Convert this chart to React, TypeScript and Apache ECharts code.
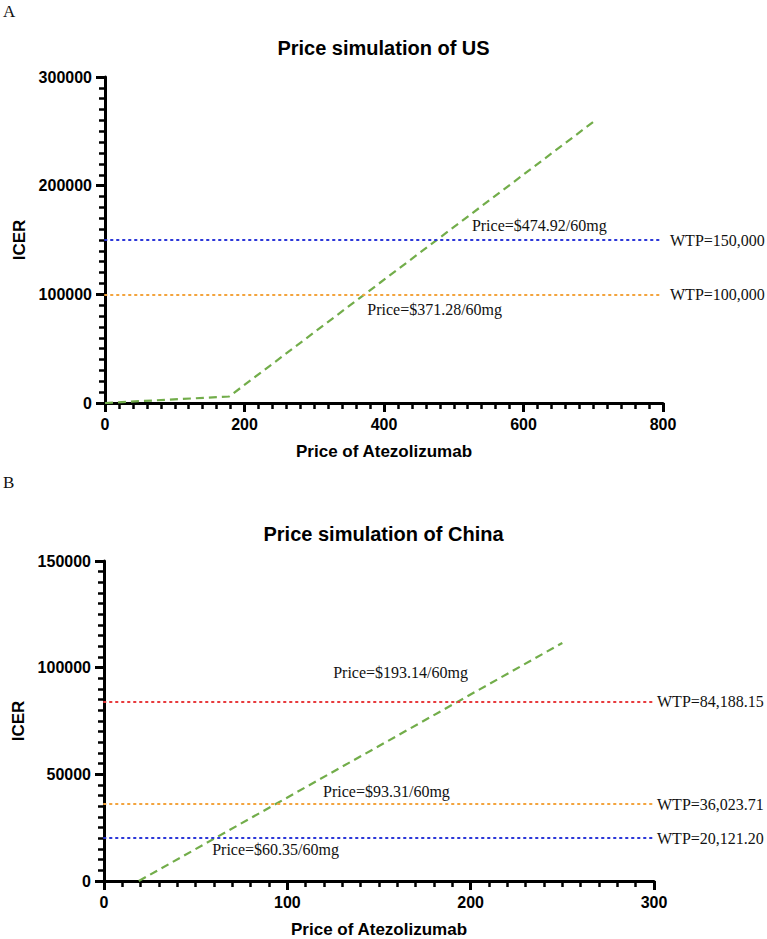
import React, { useEffect, useRef } from "react";
import * as echarts from "echarts";

// ---- Panel A (US) ----
const usCurveX = [0, 178, 700];
const usCurveY = [0, 6000, 258600];
const usWtpValues = [150000, 100000];
const usWtpLabels = ["WTP=150,000", "WTP=100,000"];
const usWtpColors = ["#2a35d8", "#f3a33c"];
const usPriceLabels = ["Price=$474.92/60mg", "Price=$371.28/60mg"];
const usPriceLabelX = [526, 376];
const usPriceLabelY = [163800, 85600];

// ---- Panel B (China) ----
const cnCurveX = [19, 250];
const cnCurveY = [0, 111600];
const cnWtpValues = [84188.15, 36023.71, 20121.2];
const cnWtpLabels = ["WTP=84,188.15", "WTP=36,023.71", "WTP=20,121.20"];
const cnWtpColors = ["#e8383b", "#f3a33c", "#2a35d8"];
const cnPriceLabels = ["Price=$193.14/60mg", "Price=$93.31/60mg", "Price=$60.35/60mg"];
const cnPriceLabelX = [125, 119.5, 59];
const cnPriceLabelY = [97800, 41900, 14900];

const titles = ["Price simulation of US", "Price simulation of China"];
const panelLetters = ["A", "B"];
const xName = "Price of Atezolizumab";
const yName = "ICER";

const SANS = "Liberation Sans, Arial, sans-serif";
const SERIF = "Liberation Serif, Times New Roman, serif";
const GREEN = "#72ad4a";
const TICK = "#000";

function axis(gridIndex: number, min: number, max: number, interval: number, name: string, nameGap: number) {
  return {
    type: "value",
    gridIndex,
    min,
    max,
    interval,
    name,
    nameGap,
    nameLocation: "middle",
    nameTextStyle: { color: "#000", fontFamily: SANS, fontWeight: "bold", fontSize: 17 },
    axisLine: { show: true, onZero: false, lineStyle: { color: "#000", width: 3 } },
    axisTick: { show: true, length: 9, lineStyle: { color: TICK, width: 3 } },
    minorTick: { show: true, splitNumber: 10, length: 6, lineStyle: { color: TICK, width: 2.5 } },
    splitLine: { show: false },
    axisLabel: {
      show: true,
      color: "#000",
      fontFamily: SANS,
      fontWeight: "bold",
      fontSize: 16,
      margin: 13,
      formatter: (v: number) => String(v),
    },
  };
}

function makeSeries(
  xs: number[], ys: number[], wtpV: number[], wtpL: string[], wtpC: string[],
  pl: string[], px: number[], py: number[], idx: number, labelDist: number
) {
  return {
    type: "line",
    xAxisIndex: idx,
    yAxisIndex: idx,
    data: xs.map((x, i) => [x, ys[i]]),
    symbol: "none",
    lineStyle: { color: GREEN, width: 2.2, type: [8, 5] },
    z: 3,
    markLine: {
      silent: true,
      symbol: ["none", "none"],
      data: wtpV.map((v, i) => ({
        yAxis: v,
        lineStyle: { color: wtpC[i], width: 2, type: [1.5, 4.5], cap: "round" },
        label: {
          show: true,
          position: "end",
          distance: labelDist,
          formatter: wtpL[i],
          color: "#111",
          fontFamily: SERIF,
          fontSize: 16,
        },
      })),
    },
    markPoint: {
      silent: true,
      symbol: "circle",
      symbolSize: 0,
      data: pl.map((t, i) => ({
        coord: [px[i], py[i]],
        label: {
          show: true,
          position: "right",
          distance: 0,
          formatter: t,
          color: "#111",
          fontFamily: SERIF,
          fontSize: 16,
        },
      })),
    },
  };
}

export default function App() {
  const ref = useRef<HTMLDivElement>(null);
  useEffect(() => {
    if (!ref.current) return;
    const chart = echarts.init(ref.current, undefined, { renderer: "svg" });
    chart.setOption({
      animation: false,
      title: [
        { text: titles[0], left: "center", top: 33, textStyle: { fontFamily: SANS, fontWeight: "bold", fontSize: 20, color: "#000" } },
        { text: titles[1], left: "center", top: 519, textStyle: { fontFamily: SANS, fontWeight: "bold", fontSize: 20, color: "#000" } },
      ],
      graphic: [
        { type: "text", left: 3, top: 3, style: { text: panelLetters[0], fontFamily: SERIF, fontSize: 17, fill: "#111" } },
        { type: "text", left: 3, top: 474, style: { text: panelLetters[1], fontFamily: SERIF, fontSize: 17, fill: "#111" } },
      ],
      grid: [
        { left: 105, right: 104, top: 77, bottom: 536 },
        { left: 104, right: 113, top: 561, bottom: 56 },
      ],
      xAxis: [
        axis(0, 0, 800, 200, xName, 40),
        axis(1, 0, 300, 100, xName, 40),
      ],
      yAxis: [
        axis(0, 0, 300000, 100000, yName, 60),
        axis(1, 0, 150000, 50000, yName, 60),
      ],
      series: [
        makeSeries(usCurveX, usCurveY, usWtpValues, usWtpLabels, usWtpColors, usPriceLabels, usPriceLabelX, usPriceLabelY, 0, 7),
        makeSeries(cnCurveX, cnCurveY, cnWtpValues, cnWtpLabels, cnWtpColors, cnPriceLabels, cnPriceLabelX, cnPriceLabelY, 1, 3),
      ],
    });
    return () => chart.dispose();
  }, []);
  return (
    <div
      ref={ref}
      style={{ position: "absolute", left: 0, top: 0, width: 767, height: 939, background: "#fff" }}
    />
  );
}
